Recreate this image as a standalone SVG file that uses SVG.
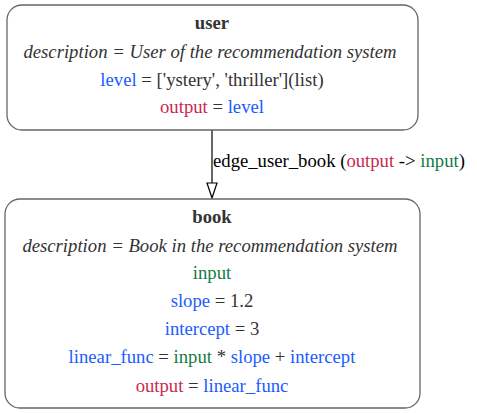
<svg xmlns="http://www.w3.org/2000/svg" width="477" height="413" viewBox="0 0 477 413">
<style>
.box{fill:#ffffff;stroke:#666666;stroke-width:1.3}
text{font-family:"Liberation Serif","Times New Roman",serif;font-size:18.7px;fill:#333333;text-anchor:middle}
.t{font-weight:bold}
.d{font-style:italic;font-size:18.7px}
.b{fill:#1a5cff}
.r{fill:#c8284f}
.g{fill:#137b47}
.e{fill:#000000;text-anchor:start}
</style>
<rect width="477" height="413" fill="#ffffff"/>
<g id="connectors">
<line x1="212" y1="130" x2="212" y2="183" stroke="#000" stroke-width="1.2"/>
<polygon points="207,183 217,183 212,198" fill="#fff" stroke="#000" stroke-width="1.2"/>
<text class="e" x="213" y="167">edge_user_book (<tspan class="r">output</tspan> -&gt; <tspan class="g">input</tspan>)</text>
</g>
<g id="user">
<rect class="box" x="7" y="5" width="411" height="125" rx="15"/>
<text class="t" x="212" y="29">user</text>
<text class="d" x="210" y="58">description = User of the recommendation system</text>
<text x="212" y="86"><tspan class="b">level</tspan> = ['ystery', 'thriller'](list)</text>
<text x="212" y="113"><tspan class="r">output</tspan> = <tspan class="b">level</tspan></text>
</g>
<g id="book">
<rect class="box" x="5" y="199" width="415" height="209" rx="15"/>
<text class="t" x="212" y="223">book</text>
<text class="d" x="210" y="252">description = Book in the recommendation system</text>
<text class="g" x="212" y="279">input</text>
<text x="212" y="307"><tspan class="b">slope</tspan> = 1.2</text>
<text x="212" y="335"><tspan class="b">intercept</tspan> = 3</text>
<text x="212" y="363"><tspan class="b">linear_func</tspan> = <tspan class="g">input</tspan> * <tspan class="b">slope</tspan> + <tspan class="b">intercept</tspan></text>
<text x="212" y="392"><tspan class="r">output</tspan> = <tspan class="b">linear_func</tspan></text>
</g>
</svg>
